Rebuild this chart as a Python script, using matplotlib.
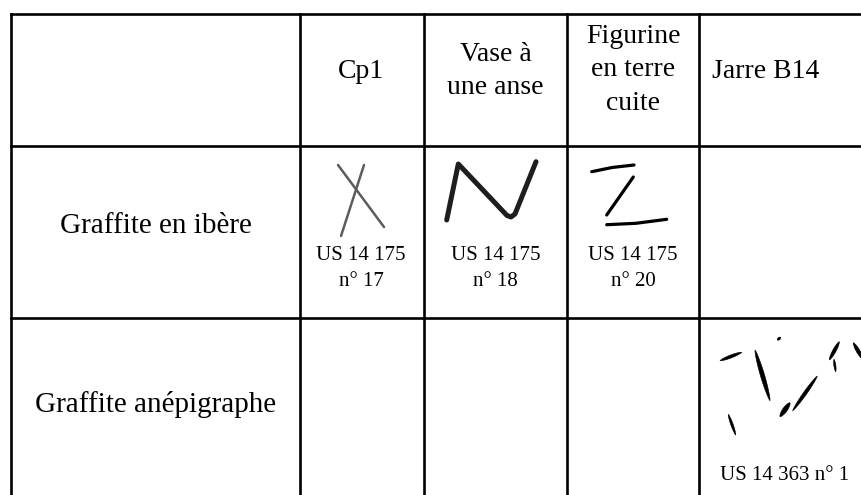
import numpy as np
import matplotlib.pyplot as plt

# table content
col_headers = ["Cp1", "Vase à\nune anse", "Figurine\nen terre\ncuite", "Jarre B14"]
row_headers = ["Graffite en ibère", "Graffite anépigraphe"]
refs_iberian = ["US 14 175\nn° 17", "US 14 175\nn° 18", "US 14 175\nn° 20", ""]
refs_anepig = ["", "", "", "US 14 363 n° 1"]

# graffiti, in pixel coords of the picture
cross_strokes = [[(338, 165), (384, 227)],
                 [(364, 165), (341, 236)]]
n_stroke = [(446.7, 220), (458.3, 164), (507, 215.5), (511, 217), (515, 214), (536, 161.7)]
z_strokes = [[(591.7, 171.7), (612, 167.5), (634, 165)],
             [(633.3, 177), (606.7, 215)],
             [(606.7, 224.7), (636, 223.3), (666.7, 219.3)]]
# jar scratches: start, end, max width
jar_marks = [((720, 360.7), (741.7, 352.3), 3.0),
             ((755, 350), (770, 400.7), 4.2),
             ((777.3, 340), (780.7, 337.3), 2.4),
             ((829.3, 360), (839.3, 341.7), 3.4),
             ((834, 359.3), (835.7, 371.7), 2.0),
             ((853.3, 342.7), (863, 359.5), 3.6),
             ((817.3, 376), (792.7, 410.7), 3.4),
             ((790, 402.7), (780, 416.7), 4.6),
             ((728.3, 414.3), (735.7, 435), 2.4)]

# layout
col_edges = [11, 300, 424, 567, 699, 870]
row_edges = [14, 146, 318, 500]
label_x = [361, 495.5, 633, 766]
header_y = [71, 71, 70, 71]
row_label_y = [226, 405]

serif = ['Liberation Serif', 'DejaVu Serif']

fig = plt.figure(figsize=(8.61, 4.95), dpi=100)
ax = fig.add_axes([0, 0, 1, 1])
ax.set_xlim(0, 861)
ax.set_ylim(495, 0)
ax.axis('off')

for x in col_edges:
    ax.plot([x, x], [row_edges[0], row_edges[-1]], color='black', lw=1.9, solid_capstyle='projecting')
for y in row_edges:
    ax.plot([col_edges[0], col_edges[-1]], [y, y], color='black', lw=1.9, solid_capstyle='projecting')

for i, h in enumerate(col_headers):
    ax.text(label_x[i], header_y[i], h, ha='center', va='center', fontsize=20,
            family=serif, linespacing=1.47)

row_cx = (col_edges[0] + col_edges[1]) / 2
for j, h in enumerate(row_headers):
    ax.text(row_cx, row_label_y[j], h, ha='center', va='center', fontsize=21, family=serif)

for i, r in enumerate(refs_iberian):
    if r:
        ax.text(label_x[i], 268.5, r, ha='center', va='center', fontsize=15,
                family=serif, linespacing=1.5)
ax.text(785, 475, refs_anepig[3], ha='center', va='center', fontsize=15, family=serif)

# the sketches
for s in cross_strokes:
    xs, ys = zip(*s)
    ax.plot(xs, ys, color='#5c5c5c', lw=1.8, solid_capstyle='round')

xs, ys = zip(*n_stroke)
ax.plot(xs, ys, color='#1e1e1e', lw=3.6, solid_capstyle='round', solid_joinstyle='round')

for s in z_strokes:
    xs, ys = zip(*s)
    ax.plot(xs, ys, color='black', lw=2.3, solid_capstyle='round')


def lens(p0, p1, w, n=30):
    p0, p1 = np.array(p0, float), np.array(p1, float)
    d = p1 - p0
    nrm = np.array([-d[1], d[0]]) / np.hypot(*d)
    t = np.linspace(0, 1, n)
    half = w / 2 * np.sin(np.pi * t) ** 0.6
    mid = p0 + np.outer(t, d)
    top = mid + np.outer(half, nrm)
    bot = mid - np.outer(half, nrm)
    return np.vstack([top, bot[::-1]])


for p0, p1, w in jar_marks:
    poly = lens(p0, p1, w)
    ax.fill(poly[:, 0], poly[:, 1], color='black', lw=0.4)

fig.savefig('out.png', dpi=100)
